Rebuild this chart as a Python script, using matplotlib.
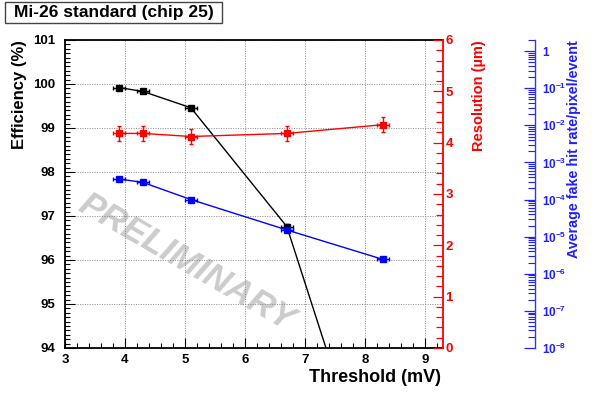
import matplotlib
matplotlib.use("Agg")
import matplotlib.pyplot as plt
from matplotlib.ticker import MultipleLocator, LogLocator, FixedLocator, FixedFormatter, NullFormatter
from matplotlib.patches import Rectangle

plt.rcParams['font.family'] = ['Liberation Sans', 'DejaVu Sans']
plt.rcParams['font.weight'] = 'bold'
plt.rcParams['mathtext.fontset'] = 'custom'
plt.rcParams['mathtext.rm'] = 'Liberation Sans:bold'
plt.rcParams['mathtext.bf'] = 'Liberation Sans:bold'
plt.rcParams['mathtext.default'] = 'rm'

# ---- data ----
threshold = [3.9, 4.3, 5.1, 6.7, 8.3]
threshold_err = [0.1, 0.1, 0.1, 0.1, 0.1]
efficiency = [99.92, 99.83, 99.46, 96.76, 90.0]
efficiency_err = [0.03, 0.03, 0.04, 0.06, 0.1]
resolution = [4.18, 4.18, 4.12, 4.18, 4.35]
resolution_err = [0.15, 0.15, 0.15, 0.15, 0.15]
fake_rate = [3.6e-4, 2.9e-4, 1.0e-4, 1.52e-5, 2.45e-6]
fake_rate_err = [1.5e-5, 1.2e-5, 4e-6, 7e-7, 1.2e-7]
log_ticks = [1e-8, 1e-7, 1e-6, 1e-5, 1e-4, 1e-3, 1e-2, 1e-1, 1]
log_labels = [r'$10^{-8}$', r'$10^{-7}$', r'$10^{-6}$', r'$10^{-5}$', r'$10^{-4}$',
              r'$10^{-3}$', r'$10^{-2}$', r'$10^{-1}$', '1']

W, H = 598, 395
fig = plt.figure(figsize=(W / 100, H / 100), dpi=100)
x0, x1, y0, y1 = 65, 442.7, 40, 348
ax = fig.add_axes([x0 / W, 1 - y1 / H, (x1 - x0) / W, (y1 - y0) / H])

ax.set_xlim(3, 9.3)
ax.set_ylim(94, 101)
ax.xaxis.set_major_locator(MultipleLocator(1))
ax.xaxis.set_minor_locator(MultipleLocator(0.2))
ax.yaxis.set_major_locator(MultipleLocator(1))
ax.yaxis.set_minor_locator(MultipleLocator(0.1))
ax.grid(True, which='major', linestyle=(0, (1, 1.5)), color='#888888', linewidth=0.7)
ax.tick_params(which='both', direction='in', labelsize=9.5, top=False, right=False)
ax.tick_params(which='major', length=7, width=0.8)
ax.tick_params(which='minor', length=3.5, width=0.8)
ax.tick_params(axis='y', pad=7)
ax.tick_params(axis='x', pad=4)
for s in ['left', 'bottom', 'top']:
    ax.spines[s].set_linewidth(1.3)
ax.spines['right'].set_visible(False)

ax.text(5.02, 95.95, 'PRELIMINARY', rotation=-30, rotation_mode='anchor',
        ha='center', va='center', color='#cccccc', fontsize=25.5,
        fontweight='bold', style='italic', zorder=0)

ax.errorbar(threshold, efficiency, xerr=threshold_err, yerr=efficiency_err,
            fmt='-s', color='black', markersize=5, linewidth=1.0,
            elinewidth=1.0, capsize=1.5, zorder=3)

# red axis
ax2 = ax.twinx()
ax2.set_ylim(0, 6)
ax2.yaxis.set_major_locator(MultipleLocator(1))
ax2.yaxis.set_minor_locator(MultipleLocator(0.2))
ax2.tick_params(which='both', direction='in', colors='red', labelsize=9.5, pad=2)
ax2.tick_params(which='major', length=7, width=0.9)
ax2.tick_params(which='minor', length=5, width=0.9)
for s in ['left', 'bottom', 'top']:
    ax2.spines[s].set_visible(False)
ax2.spines['right'].set_color('red')
ax2.spines['right'].set_linewidth(1.3)
ax2.errorbar(threshold, resolution, xerr=threshold_err, yerr=resolution_err,
             fmt='-s', color='red', markersize=5, linewidth=1.0,
             elinewidth=1.0, capsize=1.5, zorder=3)

# blue axis
ax3 = ax.twinx()
ax3.set_yscale('log')
ax3.set_ylim(1e-8, 2)
ax3.spines['right'].set_position(('axes', (535 - x0) / (x1 - x0)))
for s in ['left', 'bottom', 'top']:
    ax3.spines[s].set_visible(False)
ax3.spines['right'].set_color('#3333ff')
ax3.spines['right'].set_linewidth(1.0)
ax3.yaxis.set_major_locator(FixedLocator(log_ticks))
ax3.yaxis.set_major_formatter(FixedFormatter(log_labels))
ax3.yaxis.set_minor_locator(LogLocator(base=10, subs=range(2, 10), numticks=20))
ax3.yaxis.set_minor_formatter(NullFormatter())
ax3.tick_params(which='both', direction='in', colors='#2020ff', labelsize=8.5, pad=5)
ax3.tick_params(which='major', length=8, width=0.9)
ax3.tick_params(which='minor', length=5, width=0.8)
ax3.errorbar(threshold, fake_rate, xerr=threshold_err, yerr=fake_rate_err,
             fmt='-s', color='blue', markersize=5, linewidth=1.0,
             elinewidth=1.0, capsize=1.5, zorder=3)

# axis titles
fig.text(441 / W, 1 - 378 / H, 'Threshold (mV)', ha='right', va='center', fontsize=13)
fig.text(20 / W, 1 - 40 / H, 'Efficiency (%)', ha='center', va='top', rotation=90, fontsize=12)
fig.text(479 / W, 1 - 40 / H, 'Resolution (\u00b5m)', ha='center', va='top', rotation=90,
         fontsize=10.5, color='red')
fig.text(574 / W, 1 - 40 / H, 'Average fake hit rate/pixel/event', ha='center', va='top',
         rotation=90, fontsize=10.3, color='#2020ff')

# title box
fig.patches.append(Rectangle((5 / W, 1 - 23 / H), (222 - 5) / W, (23 - 2) / H,
                             transform=fig.transFigure, facecolor='white',
                             edgecolor='#444444', linewidth=1.0))
fig.text(113.5 / W, 1 - 12.5 / H, 'Mi-26 standard (chip 25)', ha='center', va='center',
         fontsize=12.5)

fig.savefig('out.png', dpi=100)
